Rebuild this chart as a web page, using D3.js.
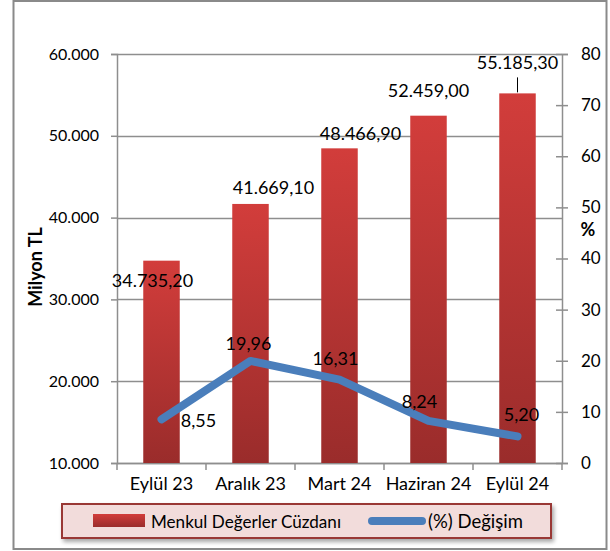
<!DOCTYPE html>
<html>
<head>
<meta charset="utf-8">
<script src="https://cdn.jsdelivr.net/npm/d3@7"></script>
<style>
  html, body { margin: 0; padding: 0; background: #fff; }
  svg { display: block; font-family: Lato, "Open Sans", sans-serif; }
</style>
</head>
<body>
<svg id="chart" width="610" height="551"></svg>
<script>
// Quarterly data
const categories = ["Eylül 23", "Aralık 23", "Mart 24", "Haziran 24", "Eylül 24"];
const portfolio = [34735.20, 41669.10, 48466.90, 52459.00, 55185.30];   // Milyon TL
const changePct = [8.55, 19.96, 16.31, 8.24, 5.20];                      // %
const leftTicks = [10000, 20000, 30000, 40000, 50000, 60000];
const rightTicks = [0, 10, 20, 30, 40, 50, 60, 70, 80];
const seriesNames = ["Menkul Değerler Cüzdanı", "(%) Değişim"];

// label nudges (px) relative to the mark they describe
const barLabelOffset = [[-9, 26], [23, -10], [21, -8], [0, -19], [0, -24]];
const lineLabelOffset = [[37, 8], [-2, -11], [-4, -15], [-9, -13], [4, -15]];

const fmtTR = v => {
  const [i, d] = v.toFixed(2).split(".");
  return i.replace(/\B(?=(\d{3})+(?!\d))/g, ".") + "," + d;
};
const fmtThousands = v => String(v).replace(/\B(?=(\d{3})+(?!\d))/g, ".");

const svg = d3.select("#chart");
const plot = { left: 117, right: 562, top: 54, bottom: 463 };
const gridColor = "#8e8e8e";

// outer frame
svg.append("rect").attr("x", 13.5).attr("y", 1).attr("width", 593).attr("height", 548)
  .attr("fill", "#fff").attr("stroke", "#8a8a8a").attr("stroke-width", 2);

const defs = svg.append("defs");
const grad = defs.append("linearGradient").attr("id", "barGrad")
  .attr("x1", 0).attr("y1", 0).attr("x2", 0).attr("y2", 1);
grad.append("stop").attr("offset", "0%").attr("stop-color", "#d23d3b");
grad.append("stop").attr("offset", "100%").attr("stop-color", "#9a2c2b");
const shadow = defs.append("filter").attr("id", "legendShadow")
  .attr("x", "-5%").attr("y", "-20%").attr("width", "115%").attr("height", "160%");
shadow.append("feGaussianBlur").attr("in", "SourceAlpha").attr("stdDeviation", 2);
shadow.append("feOffset").attr("dx", 2).attr("dy", 3).attr("result", "b");
shadow.append("feComponentTransfer").append("feFuncA").attr("type", "linear").attr("slope", 0.35);
const m = shadow.append("feMerge");
m.append("feMergeNode");
m.append("feMergeNode").attr("in", "SourceGraphic");

const x = d3.scaleBand().domain(categories).range([plot.left, plot.right]).paddingInner(0.59).paddingOuter(0.295);
const xb = d3.scaleBand().domain(categories).range([plot.left, plot.right]);
const yL = d3.scaleLinear().domain([10000, 60000]).range([plot.bottom, plot.top]);
const yR = d3.scaleLinear().domain([0, 80]).range([plot.bottom, plot.top]);

// horizontal gridlines
svg.append("g").selectAll("line").data(leftTicks).join("line")
  .attr("x1", plot.left).attr("x2", plot.right)
  .attr("y1", d => Math.round(yL(d)) + 0.5).attr("y2", d => Math.round(yL(d)) + 0.5)
  .attr("stroke", gridColor).attr("stroke-width", 1.5);

// left axis
const gL = svg.append("g").attr("transform", `translate(${plot.left},0)`)
  .call(d3.axisLeft(yL).tickValues(leftTicks).tickSize(6).tickPadding(12).tickFormat(fmtThousands));
gL.select(".domain").attr("stroke", gridColor).attr("stroke-width", 1.5);
gL.selectAll(".tick line").attr("stroke", gridColor).attr("stroke-width", 1.5);
gL.selectAll("text").attr("font-size", 16).attr("fill", "#000").attr("font-family", "Lato");

// right axis
const gR = svg.append("g").attr("transform", `translate(${plot.right},0)`)
  .call(d3.axisRight(yR).tickValues(rightTicks).tickSize(6).tickPadding(13));
gR.select(".domain").attr("stroke", gridColor).attr("stroke-width", 1.5);
gR.selectAll(".tick line").attr("x1", -6).attr("stroke", gridColor).attr("stroke-width", 1.5);
gR.selectAll("text").attr("font-size", 17).attr("fill", "#000").attr("font-family", "Lato");

// bottom axis with ticks at category boundaries
const gB = svg.append("g").attr("transform", `translate(0,${plot.bottom})`)
  .call(d3.axisBottom(xb).tickSize(0).tickPadding(14));
gB.select(".domain").attr("stroke", gridColor).attr("stroke-width", 1.5);
gB.selectAll("text").attr("font-size", 18).attr("fill", "#000").attr("font-family", "Lato");
const bounds = categories.map(c => xb(c)).concat([plot.right]);
gB.append("g").selectAll("line").data(bounds).join("line")
  .attr("x1", d => d).attr("x2", d => d).attr("y1", 0).attr("y2", 7)
  .attr("stroke", gridColor).attr("stroke-width", 1.5);

// bars
svg.append("g").selectAll("rect").data(portfolio).join("rect")
  .attr("x", (d, i) => x(categories[i]))
  .attr("width", x.bandwidth())
  .attr("y", d => yL(d))
  .attr("height", d => plot.bottom - yL(d))
  .attr("fill", "url(#barGrad)");

// bar value labels
svg.append("g").selectAll("text").data(portfolio).join("text")
  .attr("x", (d, i) => xb(categories[i]) + xb.bandwidth() / 2 + barLabelOffset[i][0])
  .attr("y", (d, i) => yL(d) + barLabelOffset[i][1])
  .attr("text-anchor", "middle").attr("font-size", 18).attr("fill", "#000")
  .text(d => fmtTR(d));

// leader line for the last bar label
const li = portfolio.length - 1;
svg.append("line")
  .attr("x1", xb(categories[li]) + xb.bandwidth() / 2).attr("x2", xb(categories[li]) + xb.bandwidth() / 2)
  .attr("y1", yL(portfolio[li]) - 16).attr("y2", yL(portfolio[li]) - 1)
  .attr("stroke", "#000").attr("stroke-width", 1);

// change line
const line = d3.line()
  .x((d, i) => xb(categories[i]) + xb.bandwidth() / 2)
  .y(d => yR(d));
svg.append("path").datum(changePct).attr("d", line)
  .attr("fill", "none").attr("stroke", "#4a7ebb").attr("stroke-width", 8)
  .attr("stroke-linecap", "round").attr("stroke-linejoin", "round");

svg.append("g").selectAll("text").data(changePct).join("text")
  .attr("x", (d, i) => xb(categories[i]) + xb.bandwidth() / 2 + lineLabelOffset[i][0])
  .attr("y", d => yR(d))
  .attr("dy", (d, i) => lineLabelOffset[i][1])
  .attr("text-anchor", "middle").attr("font-size", 18).attr("fill", "#000")
  .text(d => d.toFixed(2).replace(".", ","));

// axis titles
svg.append("text").attr("transform", "translate(42,267) rotate(-90)")
  .attr("text-anchor", "middle").attr("font-size", 18).attr("font-weight", "bold").text("Milyon TL");
svg.append("text").attr("x", 588).attr("y", 236)
  .attr("text-anchor", "middle").attr("font-size", 18).attr("font-weight", "bold").text("%");

// legend
const lg = svg.append("g");
lg.append("rect").attr("x", 62).attr("y", 504).attr("width", 489).attr("height", 34)
  .attr("fill", "#f2dcdb").attr("stroke", "#993735").attr("stroke-width", 2)
  .attr("filter", "url(#legendShadow)");
lg.append("rect").attr("x", 93).attr("y", 514).attr("width", 52).attr("height", 13).attr("fill", "url(#barGrad)");
lg.append("text").attr("x", 151).attr("y", 528).attr("font-size", 17.5)
  .attr("textLength", 190).attr("lengthAdjust", "spacingAndGlyphs").text(seriesNames[0]);
lg.append("line").attr("x1", 372).attr("x2", 422).attr("y1", 521).attr("y2", 521)
  .attr("stroke", "#4a7ebb").attr("stroke-width", 8).attr("stroke-linecap", "round");
lg.append("text").attr("x", 428).attr("y", 528).attr("font-size", 18.5).text(seriesNames[1]);
</script>
</body>
</html>
